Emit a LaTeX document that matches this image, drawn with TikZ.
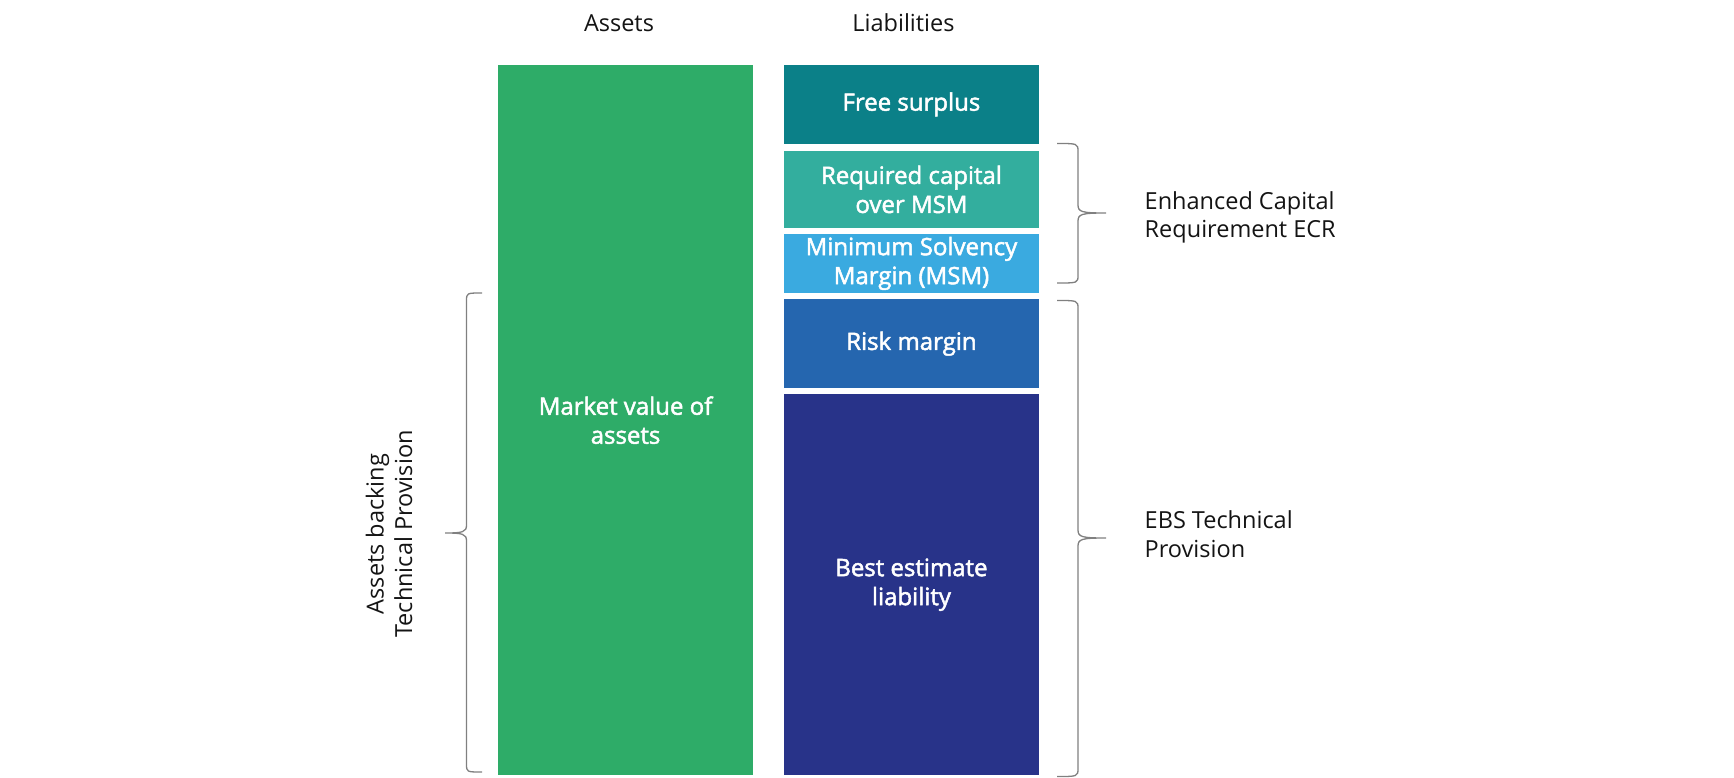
\documentclass[tikz,border=0pt]{standalone}
\usepackage{fontspec}
\setmainfont{Open Sans}
\newfontfamily\boxfont[FakeBold=2]{Open Sans}
\definecolor{assetgreen}{RGB}{46,172,104}
\definecolor{fsteal}{RGB}{11,128,136}
\definecolor{rcteal}{RGB}{51,174,158}
\definecolor{msmblue}{RGB}{58,170,224}
\definecolor{rmblue}{RGB}{37,102,175}
\definecolor{benavy}{RGB}{40,51,137}
\definecolor{bracegray}{RGB}{128,128,128}
\definecolor{labelblack}{RGB}{20,20,20}
\begin{document}
\begin{tikzpicture}[x=1pt,y=-1pt,
  box/.style={draw=none, inner sep=0pt, anchor=north west, text=white, align=center,
    font=\boxfont\fontsize{24}{29}\selectfont},
  lab/.style={text=labelblack, inner sep=0pt, font=\fontsize{23.5}{28.5}\selectfont},
  brace/.style={draw=bracegray, line width=1.3pt}]
\useasboundingbox (0,0) rectangle (1734,778);

% headers
\node[lab] (hassets) at (619,23) {Assets};
\node[lab] (hliab) at (903.5,23) {Liabilities};

% asset column
\node[box, fill=assetgreen, minimum width=255.3pt, minimum height=710pt] (mva) at (497.7,65) {Market value of\\assets};

% liability column
\node[box, fill=fsteal, minimum width=254.5pt, minimum height=78.5pt] (fs) at (784,65) {Free surplus};
\node[box, fill=rcteal, minimum width=254.5pt, minimum height=77.5pt] (rc) at (784,150.5) {Required capital\\over MSM};
\node[box, fill=msmblue, minimum width=254.5pt, minimum height=59.5pt] (msm) at (784,233.5) {Minimum Solvency\\Margin (MSM)};
\node[box, fill=rmblue, minimum width=254.5pt, minimum height=89pt] (rm) at (784,299) {Risk margin};
\node[box, fill=benavy, minimum width=254.5pt, minimum height=381pt] (be) at (784,394) {Best estimate\\liability};

% ECR brace
\draw[brace] (1057,143.5) .. controls (1078,143.5) .. (1078,152)
  -- (1078,205) .. controls (1078,212) and (1082,213) .. (1106,213)
  .. controls (1082,213) and (1078,214) .. (1078,221)
  -- (1078,275) .. controls (1078,283) .. (1057,283);
\node[lab, anchor=west, align=left] (ecr) at (1144.5,217.5) {Enhanced Capital\\Requirement ECR};

% EBS brace
\draw[brace] (1057,300.5) .. controls (1078,300.5) .. (1078,309)
  -- (1078,530) .. controls (1078,537) and (1082,538) .. (1106,538)
  .. controls (1082,538) and (1078,539) .. (1078,546)
  -- (1078,768) .. controls (1078,776.5) .. (1057,776.5);
\node[lab, anchor=west, align=left] (ebs) at (1144.5,534) {EBS Technical\\Provision};

% left brace
\draw[brace] (482,293) .. controls (466.5,293) .. (466.5,301)
  -- (466.5,525) .. controls (466.5,532) and (463,533) .. (445,533)
  .. controls (463,533) and (466.5,534) .. (466.5,541)
  -- (466.5,764) .. controls (466.5,772) .. (482,772);
\node[lab, rotate=90, align=center] (abtp) at (389,534) {Assets backing\\Technical Provision};
\end{tikzpicture}
\end{document}
